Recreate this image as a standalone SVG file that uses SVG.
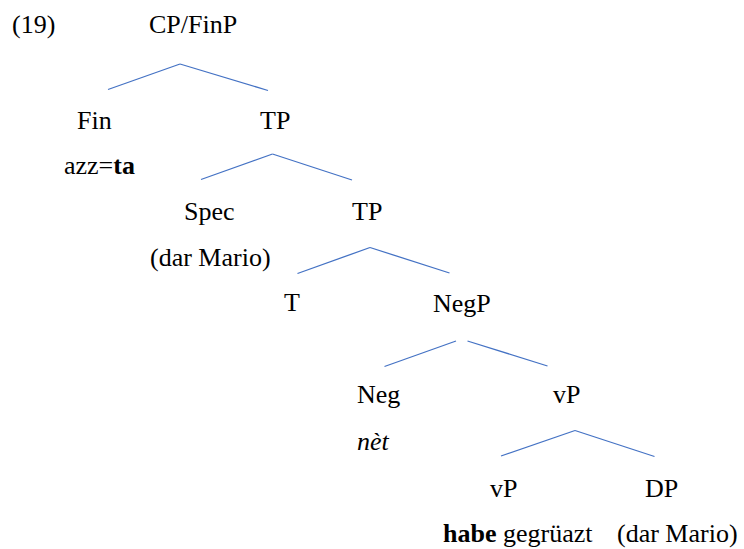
<svg xmlns="http://www.w3.org/2000/svg" width="744" height="549" viewBox="0 0 744 549">
  <style>
    text { font-family: "Liberation Serif", Tinos, "DejaVu Serif", serif; font-size: 26px; fill: #000; }
    .b { font-weight: bold; }
    .i { font-style: italic; }
    #edges line { stroke: #4472C4; stroke-width: 1.3; fill: none; }
  </style>
  <rect width="744" height="549" fill="#fff"/>
  <text id="ex-number" x="12" y="33" font-family="Liberation Serif">(19)</text>

  <g id="edges">
    <line x1="180" y1="64" x2="108" y2="89.5"/>
    <line x1="180" y1="64" x2="268" y2="90.5"/>
    <line x1="272.5" y1="154" x2="201" y2="179.5"/>
    <line x1="272.5" y1="154" x2="352" y2="180"/>
    <line x1="370" y1="247.5" x2="297.5" y2="273.5"/>
    <line x1="370" y1="247.5" x2="449.5" y2="273"/>
    <line x1="456" y1="341" x2="384.5" y2="366.5"/>
    <line x1="467.5" y1="341" x2="547.5" y2="366"/>
    <line x1="575" y1="430.5" x2="501" y2="456"/>
    <line x1="575" y1="430.5" x2="654.5" y2="456.5"/>
  </g>

  <g id="cp-finp"><text x="149" y="33">CP/FinP</text></g>
  <g id="fin">
    <text x="77" y="129">Fin</text>
    <text x="64" y="173.5">azz=<tspan class="b">ta</tspan></text>
  </g>
  <g id="tp1"><text x="260" y="129">TP</text></g>
  <g id="spec">
    <text x="184" y="220">Spec</text>
    <text x="150" y="266">(dar Mario)</text>
  </g>
  <g id="tp2"><text x="352" y="220">TP</text></g>
  <g id="t"><text x="284" y="311">T</text></g>
  <g id="negp"><text x="433" y="312">NegP</text></g>
  <g id="neg">
    <text x="357" y="403">Neg</text>
    <text class="i" x="357" y="450">nèt</text>
  </g>
  <g id="vp1"><text x="553" y="403">vP</text></g>
  <g id="vp2">
    <text x="490" y="497">vP</text>
    <text x="443" y="542"><tspan class="b">habe</tspan> gegrüazt</text>
  </g>
  <g id="dp">
    <text x="645" y="497">DP</text>
    <text x="617" y="542">(dar Mario)</text>
  </g>
</svg>
